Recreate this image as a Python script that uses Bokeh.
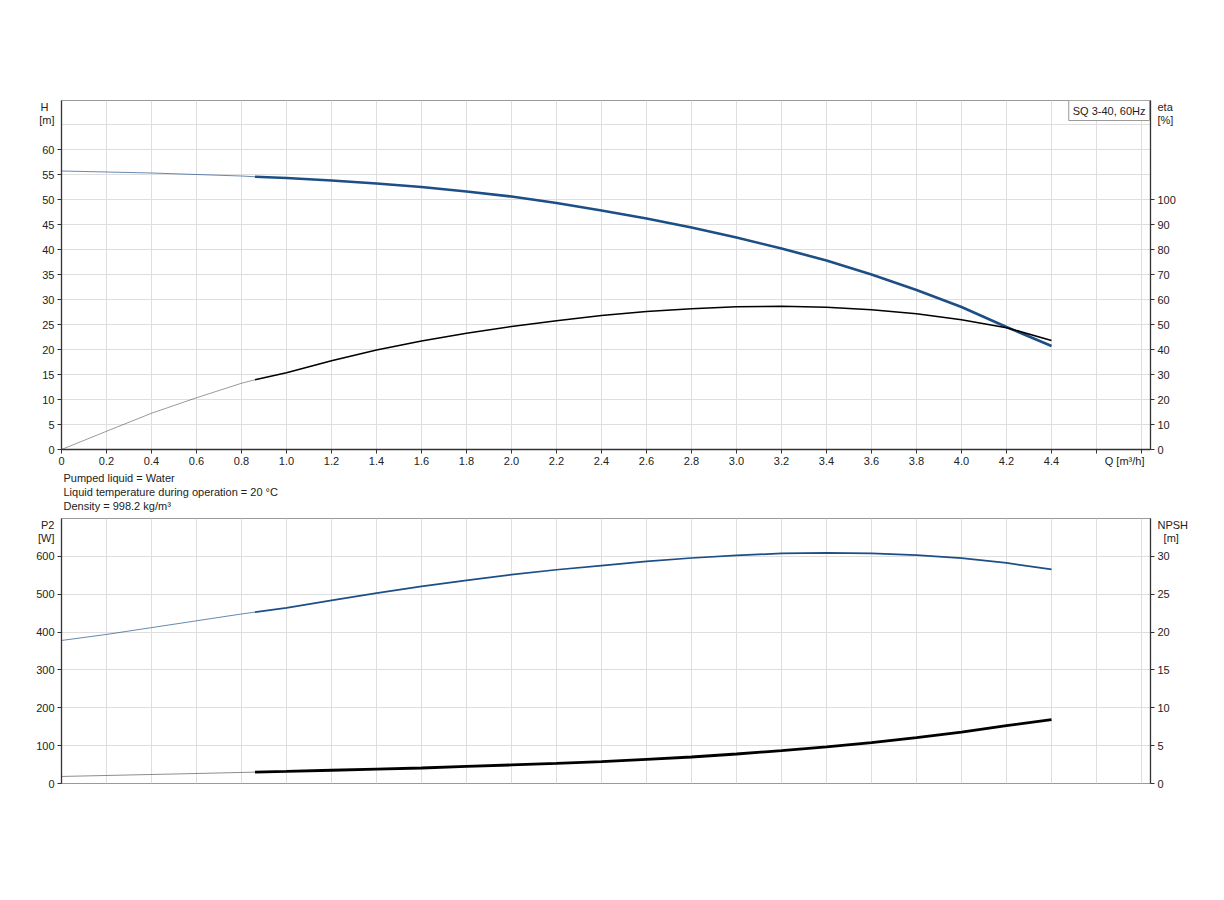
from bokeh.plotting import figure
from bokeh.models import (Range1d, LinearAxis, FixedTicker, Label, Title)
from bokeh.layouts import column
from bokeh.embed import file_html
from bokeh.resources import INLINE

# ---------------- data ----------------
q_flow = [0, 0.2, 0.4, 0.6, 0.8, 0.86, 1.0, 1.2, 1.4, 1.6, 1.8, 2.0, 2.2, 2.4,
          2.6, 2.8, 3.0, 3.2, 3.4, 3.6, 3.8, 4.0, 4.2, 4.4]
head_m = [55.7, 55.5, 55.3, 55.0, 54.7, 54.55, 54.3, 53.8, 53.2, 52.5, 51.6, 50.6,
          49.3, 47.8, 46.2, 44.4, 42.4, 40.2, 37.8, 35.0, 31.9, 28.5, 24.5, 20.7]
eta_pct = [0, 7.3, 14.5, 20.7, 26.5, 27.9, 30.7, 35.5, 39.8, 43.4, 46.5, 49.2,
           51.5, 53.6, 55.2, 56.3, 57.1, 57.3, 56.9, 55.9, 54.3, 51.9, 48.7, 43.6]
p2_w = [378, 394, 412, 430, 448, 453, 464, 484, 503, 521, 537, 552, 565, 576,
        587, 596, 603, 608, 609.5, 608, 603.5, 595.5, 583, 566]
npsh_m = [0.93, 1.06, 1.19, 1.32, 1.46, 1.5, 1.6, 1.75, 1.9, 2.05, 2.25, 2.45,
          2.65, 2.9, 3.2, 3.5, 3.9, 4.35, 4.85, 5.4, 6.05, 6.8, 7.65, 8.45]
split_q = 0.86  # start of the bold (duty) range

x_ticks = [round(i * 0.2, 1) for i in range(25)]          # 0 .. 4.8
x_labels = {t: ("0" if t == 0 else f"{t:.1f}") for t in x_ticks if t <= 4.4}
q_label_pos = 4.725
h_ticks = list(range(0, 61, 5))
eta_ticks = list(range(0, 101, 10))
p2_ticks = list(range(0, 601, 100))
npsh_ticks = list(range(0, 31, 5))
notes = ["Pumped liquid = Water",
         "Liquid temperature during operation = 20 \u00b0C",
         "Density = 998.2 kg/m\u00b3"]
legend_text = "SQ 3-40, 60Hz"

# ---------------- styling ----------------
FONT = "Liberation Sans"
BLUE = "#1d4f86"
GRID = "#dedede"
AX = "#333333"
FS = "11px"

si = q_flow.index(split_q)
q_thin, q_bold = q_flow[:si + 1], q_flow[si:]


def style_axis(ax, marks, labels):
    """marks: positions that get a tick mark; labels: {pos: text}"""
    pos = list(labels.keys())
    ax.ticker = FixedTicker(ticks=pos, minor_ticks=marks)
    ax.major_label_overrides = labels
    ax.axis_line_color = AX
    ax.axis_line_width = 1.3
    ax.major_tick_line_color = None
    ax.minor_tick_line_color = AX
    ax.minor_tick_out = 4
    ax.minor_tick_in = 0
    ax.major_tick_out = 4
    ax.major_tick_in = 0
    ax.major_label_text_font = FONT
    ax.major_label_text_font_size = FS
    ax.major_label_text_color = "#222222"
    ax.major_label_standoff = 3


def base_fig(frame_h, top, bottom, yr):
    p = figure(frame_width=1089, frame_height=frame_h, x_range=Range1d(0, 4.84),
               y_range=yr, output_backend="svg", toolbar_location=None,
               min_border_left=61, min_border_right=60, min_border_top=top,
               min_border_bottom=bottom, background_fill_color="white",
               border_fill_color="white")
    p.outline_line_color = "#9a9a9a"
    p.outline_line_width = 1
    p.xgrid.ticker = FixedTicker(ticks=x_ticks)
    p.xgrid.grid_line_color = GRID
    p.ygrid.grid_line_color = GRID
    return p


NB = "\u00a0"

# ---------------- top panel: H / eta ----------------
p1 = base_fig(349, 100, 67, Range1d(0, 69.8))
p1.extra_y_ranges = {"eta": Range1d(0, 139.6)}
p1.ygrid.ticker = FixedTicker(ticks=list(range(0, 66, 5)))

h_lab = {t: str(t) for t in h_ticks}
h_lab[68.6] = "H" + NB + NB
h_lab[65.9] = "[m]"
style_axis(p1.yaxis[0], h_ticks, h_lab)

x_lab = dict(x_labels)
x_lab[q_label_pos] = "Q [m\u00b3/h]"
style_axis(p1.xaxis[0], x_ticks, x_lab)
p1.xaxis.major_label_standoff = 1

eta_lab = {t: str(t) for t in eta_ticks}
eta_lab[137.2] = "eta"
eta_lab[131.8] = "[%]"
ax_eta = LinearAxis(y_range_name="eta")
style_axis(ax_eta, eta_ticks, eta_lab)
p1.add_layout(ax_eta, "right")

for i, t in enumerate(notes):
    p1.add_layout(Title(text=t, align="left", offset=2, text_font=FONT,
                        text_font_size=FS, text_font_style="normal",
                        text_color="#222222", standoff=0), "below")

p1.line(q_thin, head_m[:si + 1], line_color=BLUE, line_width=0.9, line_alpha=0.75)
p1.line(q_bold, head_m[si:], line_color=BLUE, line_width=2.6)
p1.line(q_thin, eta_pct[:si + 1], line_color="black", line_width=0.8,
        line_alpha=0.5, y_range_name="eta")
p1.line(q_bold, eta_pct[si:], line_color="black", line_width=1.6, y_range_name="eta")

p1.add_layout(Label(x=4.84, y=69.8, text=legend_text, x_offset=-1, y_offset=0,
                    text_align="right", text_baseline="top",
                    text_font=FONT, text_font_size=FS, text_color="#222222",
                    background_fill_color="white", border_line_color="#9a9a9a",
                    padding=4))

# ---------------- bottom panel: P2 / NPSH ----------------
p2 = base_fig(265, 2, 12, Range1d(0, 700.4))
p2.xaxis.visible = False
p2.extra_y_ranges = {"npsh": Range1d(0, 35.02)}
p2.ygrid.ticker = FixedTicker(ticks=p2_ticks)

p2_lab = {t: str(t) for t in p2_ticks}
p2_lab[682] = "P2"
p2_lab[650] = "[W]"
style_axis(p2.yaxis[0], p2_ticks, p2_lab)

npsh_lab = {t: str(t) for t in npsh_ticks}
npsh_lab[34.1] = "NPSH"
npsh_lab[32.5] = NB + NB + "[m]"
ax_npsh = LinearAxis(y_range_name="npsh")
style_axis(ax_npsh, npsh_ticks, npsh_lab)
p2.add_layout(ax_npsh, "right")

p2.line(q_thin, p2_w[:si + 1], line_color=BLUE, line_width=0.9, line_alpha=0.75)
p2.line(q_bold, p2_w[si:], line_color=BLUE, line_width=1.7)
p2.line(q_thin, npsh_m[:si + 1], line_color="black", line_width=0.9,
        line_alpha=0.5, y_range_name="npsh")
p2.line(q_bold, npsh_m[si:], line_color="black", line_width=2.8, y_range_name="npsh")

layout = column(p1, p2, spacing=0)
open("out.html", "w").write(file_html(layout, INLINE))
